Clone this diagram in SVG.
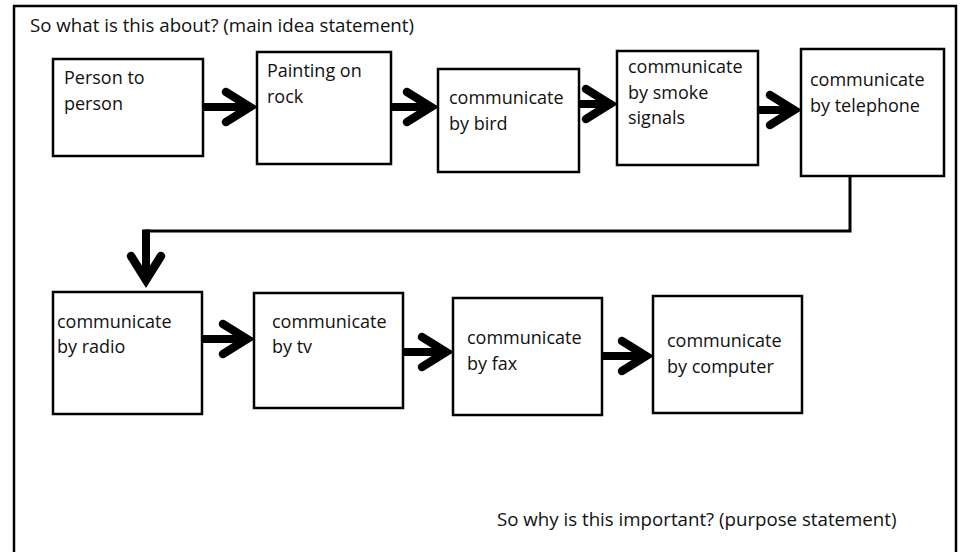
<svg xmlns="http://www.w3.org/2000/svg" width="962" height="552" viewBox="0 0 962 552">
  <style>
    text { font-family: "Open Sans", "Liberation Sans", sans-serif; font-size: 18px; fill: #111; }
    .note { font-size: 18.7px; }
    .frame { fill: none; stroke: #000; stroke-width: 2.5; }
    .box { fill: #fff; stroke: #000; stroke-width: 2.5; }
    .shaft { stroke: #000; stroke-width: 8; fill: none; }
    .wire { stroke: #000; stroke-width: 3; fill: none; }
  </style>
  <defs>
    <marker id="chevron" markerUnits="userSpaceOnUse" markerWidth="48" markerHeight="48" refX="27" refY="20" orient="auto" overflow="visible">
      <path d="M 6 5 L 30 20 L 6 35" fill="none" stroke="#000" stroke-width="8.5" stroke-linecap="round" stroke-linejoin="miter"/>
    </marker>
  </defs>

  <rect width="962" height="552" fill="#fff"/>
  <!-- outer page frame (bottom edge runs off the page) -->
  <path class="frame" d="M 14 560 L 14 6 L 956 6 L 956 560"/>

  <text class="note" x="30" y="32">So what is this about? (main idea statement)</text>

  <g id="connectors">
    <line class="shaft" x1="203" y1="107" x2="247" y2="107" marker-end="url(#chevron)"/>
    <line class="shaft" x1="391" y1="107" x2="428" y2="107" marker-end="url(#chevron)"/>
    <line class="shaft" x1="579" y1="104" x2="607" y2="104" marker-end="url(#chevron)"/>
    <line class="shaft" x1="758" y1="110" x2="791" y2="110" marker-end="url(#chevron)"/>
    <polyline class="wire" points="850,176 850,231 144.5,231"/>
    <line class="shaft" x1="146" y1="229.5" x2="146" y2="277" marker-end="url(#chevron)"/>
    <line class="shaft" x1="202" y1="339" x2="244" y2="339" marker-end="url(#chevron)"/>
    <line class="shaft" x1="403" y1="352" x2="443" y2="352" marker-end="url(#chevron)"/>
    <line class="shaft" x1="602" y1="356" x2="643" y2="356" marker-end="url(#chevron)"/>
  </g>

  <g id="person">
    <rect class="box" x="53" y="59" width="150" height="97"/>
    <text x="64" y="84">Person to</text>
    <text x="64" y="110">person</text>
  </g>
  <g id="painting">
    <rect class="box" x="257" y="52" width="134" height="112"/>
    <text x="267" y="77">Painting on</text>
    <text x="267" y="103">rock</text>
  </g>
  <g id="bird">
    <rect class="box" x="438" y="69" width="141" height="103"/>
    <text x="449" y="104">communicate</text>
    <text x="449" y="130">by bird</text>
  </g>
  <g id="smoke">
    <rect class="box" x="617" y="51" width="141" height="114"/>
    <text x="628" y="73">communicate</text>
    <text x="628" y="99">by smoke</text>
    <text x="628" y="124">signals</text>
  </g>
  <g id="telephone">
    <rect class="box" x="801" y="49" width="143" height="127"/>
    <text x="810" y="86">communicate</text>
    <text x="810" y="112">by telephone</text>
  </g>
  <g id="radio">
    <rect class="box" x="53" y="292" width="149" height="122"/>
    <text x="57" y="328">communicate</text>
    <text x="57" y="353">by radio</text>
  </g>
  <g id="tv">
    <rect class="box" x="254" y="293" width="149" height="115"/>
    <text x="272" y="328">communicate</text>
    <text x="272" y="353">by tv</text>
  </g>
  <g id="fax">
    <rect class="box" x="453" y="298" width="149" height="117"/>
    <text x="467" y="344">communicate</text>
    <text x="467" y="370">by fax</text>
  </g>
  <g id="computer">
    <rect class="box" x="653" y="296" width="149" height="117"/>
    <text x="667" y="347">communicate</text>
    <text x="667" y="373">by computer</text>
  </g>

  <text class="note" x="497" y="526">So why is this important? (purpose statement)</text>
</svg>
